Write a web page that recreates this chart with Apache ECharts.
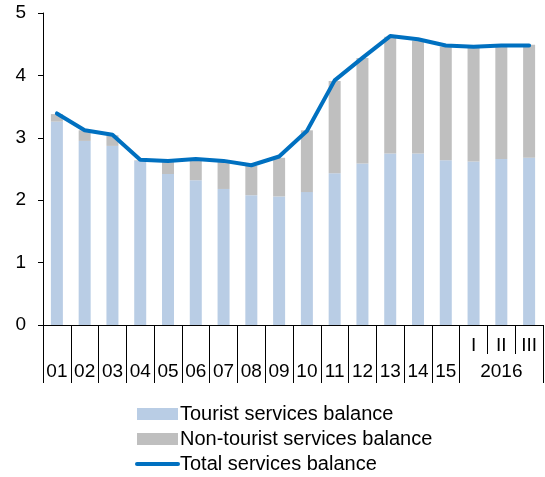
<!DOCTYPE html>
<html>
<head>
<meta charset="utf-8">
<script src="https://cdn.jsdelivr.net/npm/echarts@6/dist/echarts.min.js"></script>
<style>
  html, body { margin: 0; padding: 0; background: #fff; }
  #chart { width: 545px; height: 477px; }
</style>
</head>
<body>
<div id="chart"></div>
<script>
// upper row of category labels (quarters of 2016)
const topLabels = ['', '', '', '', '', '', '', '', '', '', '', '', '', '', '', 'I', 'II', 'III'];
// lower row: years, 2016 sits under the middle quarter
const bottomLabels = ['01', '02', '03', '04', '05', '06', '07', '08', '09', '10', '11', '12', '13', '14', '15', '', '2016', ''];

const tourist = [3.26, 2.95, 2.87, 2.63, 2.42, 2.32, 2.18, 2.08, 2.06, 2.13, 2.43, 2.59, 2.75, 2.75, 2.64, 2.62, 2.66, 2.68];
const nonTourist = [0.12, 0.17, 0.17, 0.01, 0.19, 0.32, 0.43, 0.47, 0.62, 0.99, 1.48, 1.69, 1.87, 1.81, 1.82, 1.82, 1.80, 1.81];
const total = [3.39, 3.12, 3.05, 2.65, 2.63, 2.66, 2.63, 2.56, 2.70, 3.11, 3.92, 4.28, 4.63, 4.58, 4.48, 4.46, 4.48, 4.48];

const yTicks = [0, 1, 2, 3, 4, 5];

const font = 'Liberation Sans, Arial, sans-serif';

let myChart = echarts.init(document.getElementById('chart'));

let option = {
    animation: false,
    textStyle: { fontFamily: font },
    grid: {
        left: 43,
        right: 2,
        top: 13,
        bottom: 152
    },
    legend: {
        orient: 'vertical',
        left: 135,
        top: 404,
        padding: 0,
        itemWidth: 41,
        itemHeight: 12,
        itemGap: 5,
        textStyle: {
            fontSize: 20,
            color: '#000',
            lineHeight: 20,
            padding: [0, 0, 0, -3]
        },
        data: [
            { name: 'Tourist services balance', icon: 'rect' },
            { name: 'Non-tourist services balance', icon: 'rect' },
            // hide the marker dot, keep just the line
            {
                name: 'Total services balance',
                itemStyle: { color: 'rgba(0,0,0,0)', borderColor: 'rgba(0,0,0,0)', borderWidth: 0 },
                lineStyle: { width: 4, color: '#0070c0' }
            }
        ]
    },
    xAxis: [
        {
            type: 'category',
            position: 'bottom',
            data: topLabels,
            axisLine: { lineStyle: { color: '#000', width: 1 } },
            axisTick: { show: true, interval: 0, length: 29, lineStyle: { color: '#000' } },
            axisLabel: { interval: 0, margin: 11, fontSize: 19, color: '#000' }
        },
        {
            type: 'category',
            position: 'bottom',
            data: bottomLabels,
            axisLine: { show: false },
            // long separators everywhere except between the 2016 quarters
            axisTick: {
                show: true,
                length: 58,
                interval: function (index) { return index <= 15; },
                lineStyle: { color: '#000' }
            },
            axisLabel: { interval: 0, margin: 37, fontSize: 19, color: '#000' }
        }
    ],
    yAxis: {
        type: 'value',
        min: yTicks[0],
        max: yTicks[yTicks.length - 1],
        interval: 1,
        splitLine: { show: false },
        axisLine: { show: true, lineStyle: { color: '#000', width: 1 } },
        axisTick: { show: true, length: 5, lineStyle: { color: '#000' } },
        axisLabel: { margin: 17, fontSize: 19, color: '#000' }
    },
    series: [
        {
            name: 'Tourist services balance',
            type: 'bar',
            stack: 'bal',
            barWidth: 12,
            itemStyle: { color: '#b9cde5' },
            data: tourist
        },
        {
            name: 'Non-tourist services balance',
            type: 'bar',
            stack: 'bal',
            barWidth: 12,
            itemStyle: { color: '#bfbfbf' },
            data: nonTourist
        },
        {
            name: 'Total services balance',
            type: 'line',
            symbol: 'none',
            z: 5,
            lineStyle: { color: '#0070c0', width: 4, join: 'round', cap: 'round' },
            itemStyle: { color: '#0070c0' },
            data: total
        }
    ]
};
myChart.setOption(option);
</script>
</body>
</html>
